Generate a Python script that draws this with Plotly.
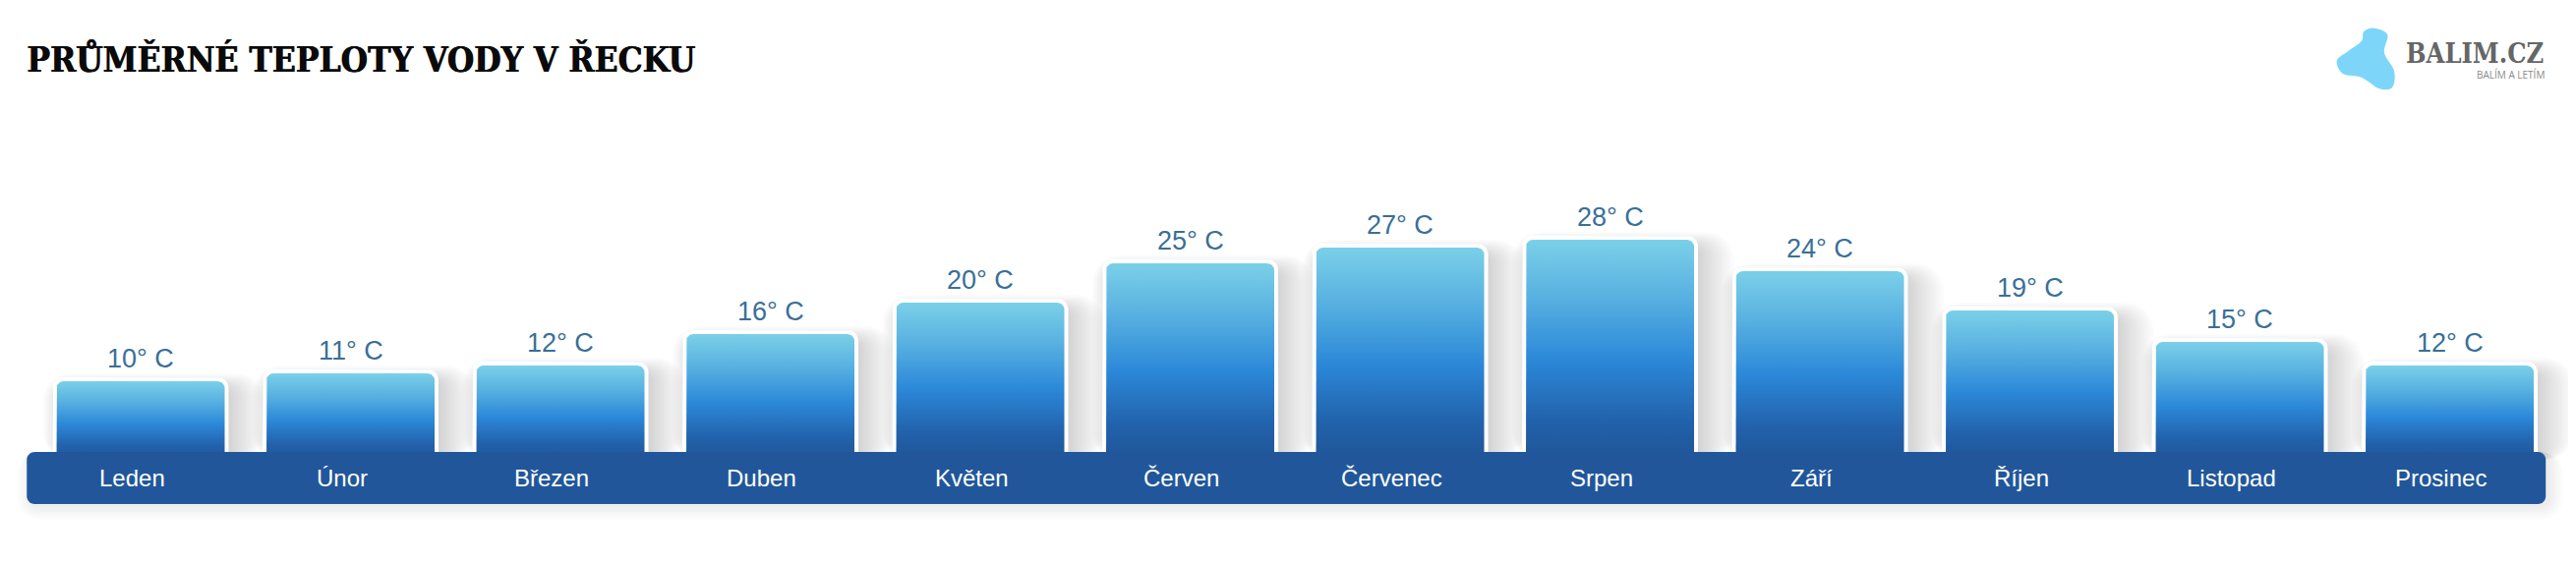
import numpy as np
import plotly.graph_objects as go

# ---------------- data ----------------
months = ["Leden", "Únor", "Březen", "Duben", "Květen", "Červen",
          "Červenec", "Srpen", "Září", "Říjen", "Listopad", "Prosinec"]
temps = [10, 11, 12, 16, 20, 25, 27, 28, 24, 19, 15, 12]
value_labels = [f"{t}° C" for t in temps]
title_text = "PRŮMĚRNÉ TEPLOTY VODY V ŘECKU"
brand_text = "BALIM.CZ"
slogan_text = "BALÍM A LETÍM"

# ---------------- geometry (screen pixels) ----------------
OFF = 8                       # page body margin
FW, FH = 2620 - 2 * OFF, 572 - 2 * OFF
PX_X = 213.5                  # pixels per category
PX_Y = 8.0                    # pixels per degree
X0 = 143.0 - OFF              # figure pixel of first category center
Y0 = 468.0 - OFF              # figure pixel of value 0
x_range = [-X0 / PX_X, (FW - X0) / PX_X]
y_range = [-(FH - Y0) / PX_Y, Y0 / PX_Y]


def v_at(screen_y):
    return (Y0 - (screen_y - OFF)) / PX_Y


def paper(sx, sy):
    return ((sx - OFF) / FW, 1 - (sy - OFF) / FH)


BAR_HALF_PX = 85.5
BAND_SHIFT = -9 / PX_X
band_top_v = v_at(460)
band_bot_v = v_at(513)
label_v = v_at(486)

grad = [[0.0, "#1F5597"], [0.18, "#2262AC"], [0.45, "#2B88D8"],
        [0.72, "#55AEE0"], [1.0, "#7BD0E8"]]


def top_round_rect(xc, half_px, top_v, bottom_v, r_px, n=10):
    hw = half_px / PX_X
    rx, ry = r_px / PX_X, r_px / PX_Y
    xs, ys = [xc - hw], [bottom_v]
    for a in np.linspace(np.pi, np.pi / 2, n):
        xs.append(xc - hw + rx + rx * np.cos(a)); ys.append(top_v - ry + ry * np.sin(a))
    for a in np.linspace(np.pi / 2, 0, n):
        xs.append(xc + hw - rx + rx * np.cos(a)); ys.append(top_v - ry + ry * np.sin(a))
    xs += [xc + hw, xc - hw]
    ys += [bottom_v, bottom_v]
    return xs, ys


def round_rect_path(x0, x1, y0, y1, r_px, n=8):
    rx, ry = r_px / PX_X, r_px / PX_Y
    pts = []
    corners = [(x1 - rx, y1 - ry, 0, np.pi / 2), (x0 + rx, y1 - ry, np.pi / 2, np.pi),
               (x0 + rx, y0 + ry, np.pi, 1.5 * np.pi), (x1 - rx, y0 + ry, 1.5 * np.pi, 2 * np.pi)]
    for cx, cy, a0, a1 in corners:
        for a in np.linspace(a0, a1, n):
            pts.append((cx + rx * np.cos(a), cy + ry * np.sin(a)))
    return "M " + " L ".join(f"{p[0]:.5f},{p[1]:.5f}" for p in pts) + " Z"


fig = go.Figure()
shapes = []
annotations = []
x_idx = list(range(len(months)))

# soft shadows of bars
for i, t in zip(x_idx, temps):
    hw = BAR_HALF_PX / PX_X
    for k in range(16):
        ex_r = (2 + 2.6 * k) / PX_X
        ex_l = max(0.0, -10 + 1.6 * k) / PX_X
        ey = (-10 + 1.2 * k) / PX_Y
        shapes.append(dict(type="path", xref="x", yref="y", layer="below",
                           path=round_rect_path(i - hw - ex_l, i + hw + ex_r, 0, t + ey,
                                                6 + 1.5 * k),
                           fillcolor="rgba(0,0,0,0.012)", line=dict(width=0)))

# band shadow
for k in range(6):
    e = 1 + 2.5 * k
    shapes.append(dict(type="path", xref="x", yref="y", layer="below",
                       path=round_rect_path(-0.5 + BAND_SHIFT - (e - 4) / PX_X,
                                            11.5 + BAND_SHIFT + (e + 4) / PX_X,
                                            band_bot_v - (e + 2) / PX_Y,
                                            band_top_v, 8 + e),
                       fillcolor="rgba(0,0,0,0.012)", line=dict(width=0)))

# white borders
for i, t in zip(x_idx, temps):
    xs, ys = top_round_rect(i, BAR_HALF_PX + 4, t + 4 / PX_Y, 0, 11)
    fig.add_trace(go.Scatter(x=xs, y=ys, fill="toself", mode="lines",
                             line=dict(width=0), fillcolor="white",
                             hoverinfo="skip", showlegend=False))

# gradient bars
for i, t in zip(x_idx, temps):
    xs, ys = top_round_rect(i, BAR_HALF_PX, t, 0, 7)
    fig.add_trace(go.Scatter(x=xs, y=ys, fill="toself", mode="lines",
                             line=dict(width=0),
                             fillgradient=dict(type="vertical", colorscale=grad),
                             hoverinfo="skip", showlegend=False))

# month band
shapes.append(dict(type="path", xref="x", yref="y", layer="above",
                   path=round_rect_path(-0.5 + BAND_SHIFT, 11.5 + BAND_SHIFT,
                                        band_bot_v, band_top_v, 8),
                   fillcolor="#21579A", line=dict(width=0)))

# month labels
for i, m in zip(x_idx, months):
    annotations.append(dict(x=i, y=label_v, xref="x", yref="y", text=m,
                            showarrow=False, xshift=-9, xanchor="center", yanchor="middle",
                            font=dict(family="Liberation Sans, Arial, sans-serif",
                                      size=24, color="white")))

# value labels
for i, t, lab in zip(x_idx, temps, value_labels):
    annotations.append(dict(x=i, y=t, xref="x", yref="y", text=lab,
                            showarrow=False, xanchor="center", yanchor="bottom", yshift=6,
                            font=dict(family="Liberation Sans, Arial, sans-serif",
                                      size=27, color="#3A6F97")))

# title
tx, ty = paper(25, 61)
annotations.append(dict(x=tx, y=ty, xref="paper", yref="paper",
                        text=title_text, showarrow=False, xanchor="left", yanchor="middle",
                        font=dict(family="DejaVu Serif Condensed, DejaVu Serif, serif",
                                  size=35, color="#0A0A0A", weight="bold",
                                  shadow="0.8px 0px 0px #0A0A0A")))

# logo text
bx, by = paper(2589, 54)
annotations.append(dict(x=bx, y=by, xref="paper", yref="paper",
                        text=brand_text, showarrow=False, xanchor="right", yanchor="middle",
                        font=dict(family="DejaVu Serif Condensed, DejaVu Serif, serif",
                                  size=27, color="#666666", weight="bold")))
sx, sy = paper(2590, 76)
annotations.append(dict(x=sx, y=sy, xref="paper", yref="paper",
                        text=slogan_text, showarrow=False, xanchor="right", yanchor="middle",
                        font=dict(family="Open Sans, Liberation Sans, sans-serif",
                                  size=10, color="#8A8A8A")))

# logo blob (screen pixel outline)
blob_pts = [(2415, 28.7), (2428.3, 35.3), (2425, 53.7), (2435, 72), (2433.3, 88.7),
            (2420, 90.3), (2401.7, 78.7), (2383.3, 75.3), (2376.7, 62), (2388.3, 52),
            (2401.7, 42), (2404.3, 32)]
P = [np.array(paper(*p)) for p in blob_pts]
n = len(P)
path = f"M {P[0][0]:.5f},{P[0][1]:.5f}"
for j in range(n):
    p0, p1, p2, p3 = P[j - 1], P[j], P[(j + 1) % n], P[(j + 2) % n]
    c1 = p1 + (p2 - p0) / 6
    c2 = p2 - (p3 - p1) / 6
    path += f" C {c1[0]:.5f},{c1[1]:.5f} {c2[0]:.5f},{c2[1]:.5f} {p2[0]:.5f},{p2[1]:.5f}"
path += " Z"
shapes.append(dict(type="path", xref="paper", yref="paper", path=path,
                   fillcolor="#7DD6F9", line=dict(width=0), layer="above"))

fig.update_layout(
    width=FW, height=FH,
    margin=dict(l=0, r=0, t=0, b=0),
    paper_bgcolor="white", plot_bgcolor="white",
    xaxis=dict(range=x_range, visible=False, fixedrange=True),
    yaxis=dict(range=y_range, visible=False, fixedrange=True),
    shapes=shapes, annotations=annotations,
    showlegend=False,
)

fig.write_html("out.html", include_plotlyjs=True, config={"displayModeBar": False})
